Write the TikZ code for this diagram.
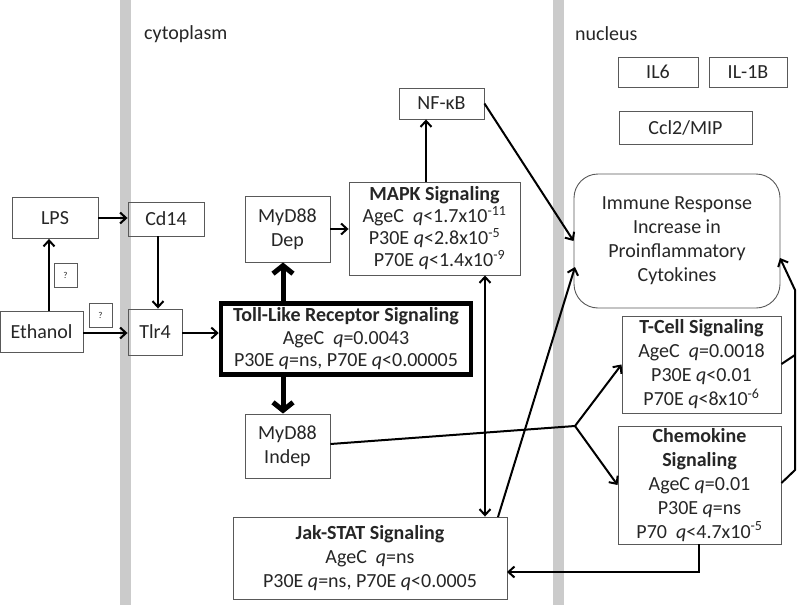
\documentclass[tikz,border=0pt]{standalone}
\usepackage{fontspec}
\setmainfont{Carlito}
\usetikzlibrary{arrows.meta}
\definecolor{boxgray}{HTML}{595959}
\definecolor{bandgray}{HTML}{CBCBCB}
\definecolor{txt}{HTML}{262626}
\begin{document}
\begin{tikzpicture}[x=1pt,y=-1pt,
  box/.style={draw=boxgray, line width=0.9pt, inner sep=0pt, align=center, text=txt,
    font=\fontsize{20}{24}\selectfont},
  qbox/.style={draw=boxgray, line width=0.7pt, inner sep=0pt, text=txt,
    minimum width=23pt, minimum height=24pt, font=\fontsize{9}{10}\selectfont},
  lbl/.style={anchor=west, inner sep=0pt, text=txt, font=\fontsize{20}{24}\selectfont},
  arr/.style={line width=2pt, -{Straight Barb[length=6pt,width=11pt]}},
  darr/.style={line width=2pt, {Straight Barb[length=6pt,width=11pt]}-{Straight Barb[length=6pt,width=11pt]}},
  thickarr/.style={line width=5pt, -{Straight Barb[length=8pt,width=20pt]}},
  ln/.style={line width=2pt}]
\useasboundingbox (0,0) rectangle (800,605);
\fill[white] (0,0) rectangle (800,605);
% bands
\fill[bandgray] (120,0) rectangle (131,605);
\fill[bandgray] (553,0) rectangle (564,605);
\node[lbl] (cyto) at (144,34) {cytoplasm};
\node[lbl] (nuc) at (575,34) {nucleus};
% nodes
\node[box, minimum width=86pt, minimum height=41pt] (LPS) at (55,218) {LPS};
\node[box, minimum width=76pt, minimum height=34pt] (Cd14) at (166,219) {Cd14};
\node[qbox] (q1) at (65.5,275) {?};
\node[box, minimum width=83pt, minimum height=41pt] (Eth) at (41.5,331.5) {Ethanol};
\node[qbox] (q2) at (100.5,315) {?};
\node[box, minimum width=54pt, minimum height=46pt] (Tlr4) at (155,332) {Tlr4};
\node[box, draw=black, line width=4.5pt, minimum width=250pt, minimum height=71pt,
      font=\fontsize{20}{22.5}\selectfont] (TLR) at (346,339)
  {\textbf{Toll-Like Receptor Signaling}\\AgeC\ \ \textit{q}=0.0043\\P30E \textit{q}=ns, P70E \textit{q}<0.00005};
\node[box, minimum width=85pt, minimum height=66pt] (Dep) at (287.5,229) {MyD88\\Dep};
\node[box, minimum width=171pt, minimum height=93pt, font=\fontsize{20}{22}\selectfont] (MAPK) at (434.5,228.5)
  {\textbf{MAPK Signaling}\\AgeC\ \ \textit{q}<1.7x10\textsuperscript{-11}\\P30E \textit{q}<2.8x10\textsuperscript{-5}\\\hspace*{10pt}P70E \textit{q}<1.4x10\textsuperscript{-9}};
\node[box, minimum width=85pt, minimum height=31pt] (NFkB) at (441.5,103.5) {NF-κB};
\node[box, minimum width=85pt, minimum height=64pt] (Indep) at (287.5,446) {MyD88\\Indep};
\node[box, minimum width=274pt, minimum height=82pt] (Jak) at (370,558)
  {\textbf{Jak-STAT Signaling}\\AgeC\ \ \textit{q}=ns\\P30E \textit{q}=ns, P70E \textit{q}<0.0005};
\node[box, minimum width=80pt, minimum height=30pt] (IL6) at (658,72) {IL6};
\node[box, minimum width=78pt, minimum height=30pt] (IL1B) at (748,72) {IL-1B};
\node[box, minimum width=133pt, minimum height=33pt] (Ccl2) at (685.5,127.5) {Ccl2/MIP};
\node[box, rounded corners=24pt, minimum width=206pt, minimum height=134pt] (Imm) at (677,241)
  {Immune Response\\Increase in\\Proinflammatory\\Cytokines};
\node[box, minimum width=159pt, minimum height=97pt] (TCell) at (701.5,364.5)
  {\textbf{T-Cell Signaling}\\AgeC\ \ \textit{q}=0.0018\\P30E \textit{q}<0.01\\P70E \textit{q}<8x10\textsuperscript{-6}};
\node[box, minimum width=163pt, minimum height=118pt] (Chem) at (699.5,485)
  {\textbf{Chemokine}\\\textbf{Signaling}\\AgeC \textit{q}=0.01\\P30E \textit{q}=ns\\P70\ \ \textit{q}<4.7x10\textsuperscript{-5}};
% helper coordinates
\coordinate (xe) at (49,0);
\coordinate (xc) at (158,0);
\coordinate (xm) at (283,0);
\coordinate (xn) at (426,0);
\coordinate (xd) at (485,0);
\coordinate (js) at (498,517);
\coordinate (imL) at (575,267);
\coordinate (br) at (575,426);
\coordinate (cb) at (699,572);
\coordinate (jr) at (507,572);
\coordinate (rt) at (795,355);
\coordinate (rc) at (795,470);
\coordinate (rtop) at (795,290);
\coordinate (imR) at (780,258);
% connectors
\draw[arr] (xe |- Eth.north) -- (xe |- LPS.south);
\draw[arr] (LPS.east) -- (LPS.east -| Cd14.west);
\draw[arr] (xc |- Cd14.south) -- (xc |- Tlr4.north);
\draw[arr] (Eth.east |- 0,333) -- (Tlr4.west |- 0,333);
\draw[arr] (Tlr4.east |- 0,333) -- (TLR.west |- 0,333);
\draw[thickarr] (xm |- TLR.north) -- (xm |- Dep.south);
\draw[thickarr] (xm |- TLR.south) -- (xm |- Indep.north);
\draw[arr] (Dep.east) -- (Dep.east -| MAPK.west);
\draw[arr] (xn |- MAPK.north) -- (xn |- NFkB.south);
\draw[arr] (NFkB.east) -- (Imm.west);
\draw[darr] (xd |- MAPK.south) -- (xd |- Jak.north);
\draw[arr] (js) -- (imL);
\draw[ln] (Indep.east |- 0,444) -- (br);
\draw[arr] (br) -- (TCell.west);
\draw[arr] (br) -- (Chem.west);
\draw[arr] (Chem.south -| cb) -- (cb) -- (jr);
\draw[ln] (TCell.east |- 0,364) -- (rt);
\draw[arr] (Chem.east |- 0,483) -- (rc) -- (rtop) -- (imR);
\end{tikzpicture}
\end{document}
